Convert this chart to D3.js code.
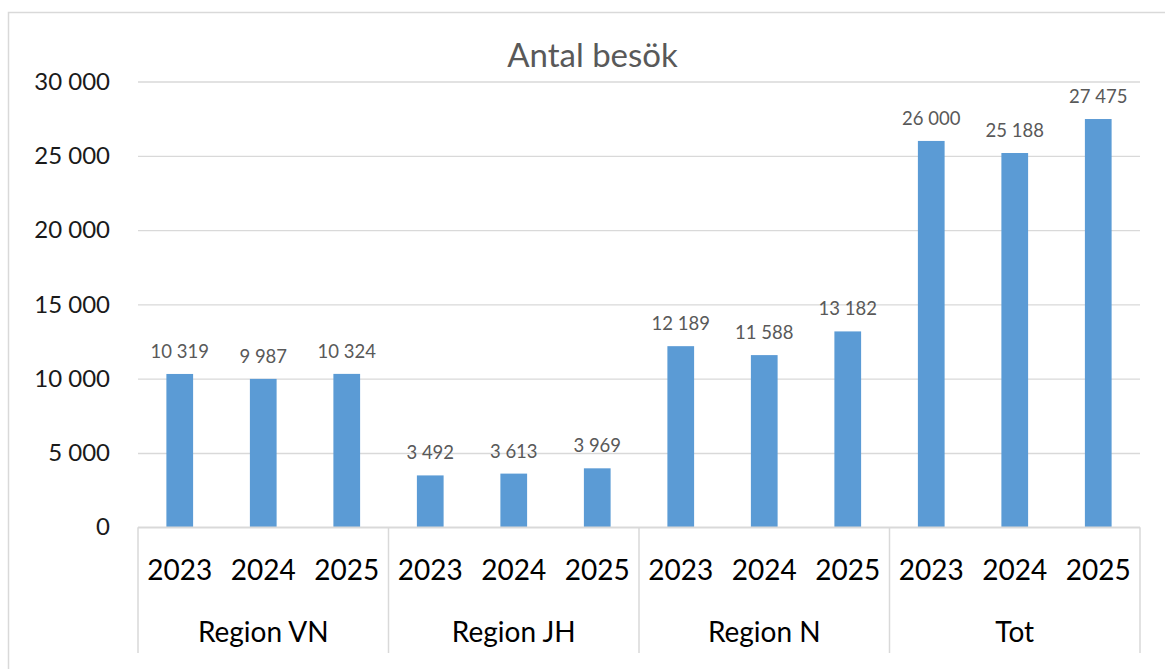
<!DOCTYPE html>
<html>
<head>
<meta charset="utf-8">
<script src="https://cdn.jsdelivr.net/npm/d3@7"></script>
<style>
  body { margin: 0; background: #fff; }
  text { font-family: Lato, "Liberation Sans", sans-serif; }
</style>
</head>
<body>
<div class="canvas"></div>
<script>
const regions = ["Region VN", "Region JH", "Region N", "Tot"];
const years = ["2023", "2024", "2025"];
const vn = [10319, 9987, 10324];
const jh = [3492, 3613, 3969];
const rn = [12189, 11588, 13182];
const tot = [26000, 25188, 27475];
const yTicks = [0, 5000, 10000, 15000, 20000, 25000, 30000];

const series = [vn, jh, rn, tot];
const rows = [];
regions.forEach((r, i) => {
  years.forEach((y, j) => rows.push({ region: r, year: y, key: r + "|" + y, value: series[i][j] }));
});

const W = 1165, H = 669;
const plotLeft = 138, plotRight = 1140, plotTop = 81.5, base = 527.3;

const fmt = v => d3.format(",")(v).replace(/,/g, "\u00a0");
const fmtAxis = v => d3.format(",")(v).replace(/,/g, " ");

const svg = d3.select(".canvas").append("svg")
  .attr("width", W).attr("height", H);

// chart frame
svg.append("rect")
  .attr("x", 8.5).attr("y", 12.5)
  .attr("width", 1180).attr("height", 700)
  .attr("fill", "#fff").attr("stroke", "#d9d9d9").attr("stroke-width", 1.5);

const x = d3.scaleBand().domain(rows.map(d => d.key)).range([plotLeft, plotRight]).paddingInner(0.68).paddingOuter(0.34);
const xGroup = d3.scaleBand().domain(regions).range([plotLeft, plotRight]);
const y = d3.scaleLinear().domain([0, 30000]).range([base, plotTop]);

// gridlines + y labels
const yAxis = d3.axisLeft(y).tickValues(yTicks).tickSize(-(plotRight - plotLeft)).tickFormat(fmtAxis).tickPadding(28);
const gy = svg.append("g").attr("transform", `translate(${plotLeft},0)`).call(yAxis);
gy.select(".domain").remove();
gy.selectAll(".tick line").attr("stroke", "#d9d9d9").attr("stroke-width", 1.3);
gy.selectAll(".tick text").attr("font-size", 24).attr("fill", "#1a1a1a");

// bars
svg.selectAll("rect.bar").data(rows).enter().append("rect")
  .attr("class", "bar")
  .attr("x", d => x(d.key))
  .attr("y", d => y(d.value))
  .attr("width", x.bandwidth())
  .attr("height", d => base - y(d.value))
  .attr("fill", "#5b9bd5");

// data labels
svg.selectAll("text.lbl").data(rows).enter().append("text")
  .attr("class", "lbl")
  .attr("x", d => x(d.key) + x.bandwidth() / 2)
  .attr("y", d => y(d.value) - 16)
  .attr("text-anchor", "middle")
  .attr("font-size", 18.5)
  .attr("fill", "#595959")
  .text(d => fmt(d.value));

// category axis
const ax = svg.append("g");
ax.append("line")
  .attr("x1", plotLeft).attr("x2", plotRight).attr("y1", base).attr("y2", base)
  .attr("stroke", "#d9d9d9").attr("stroke-width", 1.5);
const seps = regions.map(r => xGroup(r)).concat([plotRight]);
ax.selectAll("line.sep").data(seps).enter().append("line")
  .attr("class", "sep")
  .attr("x1", d => d).attr("x2", d => d)
  .attr("y1", base).attr("y2", 653)
  .attr("stroke", "#d9d9d9").attr("stroke-width", 1.5);

ax.selectAll("text.yr").data(rows).enter().append("text")
  .attr("class", "yr")
  .attr("x", d => x(d.key) + x.bandwidth() / 2)
  .attr("y", 580)
  .attr("text-anchor", "middle")
  .attr("font-size", 28)
  .attr("fill", "#000")
  .text(d => d.year);

ax.selectAll("text.grp").data(regions).enter().append("text")
  .attr("class", "grp")
  .attr("x", d => xGroup(d) + xGroup.bandwidth() / 2)
  .attr("y", 642)
  .attr("text-anchor", "middle")
  .attr("font-size", 28)
  .attr("fill", "#000")
  .text(d => d);

// title
svg.append("text")
  .attr("x", 592.5)
  .attr("y", 67)
  .attr("text-anchor", "middle")
  .attr("font-size", 33)
  .attr("fill", "#595959")
  .text("Antal besök");
</script>
</body>
</html>
